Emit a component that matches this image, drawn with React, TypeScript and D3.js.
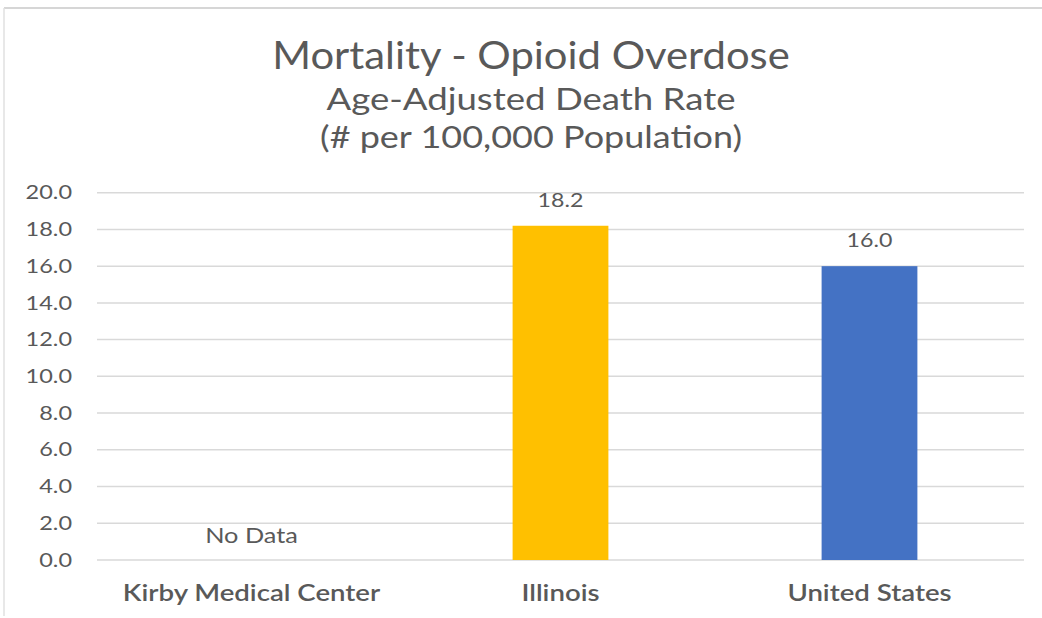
import React from "react";
import * as d3 from "d3";

const categories = ["Kirby Medical Center", "Illinois", "United States"];
const values: (number | null)[] = [null, 18.2, 16.0];
const barColors = ["#A5A5A5", "#FFC000", "#4472C4"];
const yTicks = [0, 2, 4, 6, 8, 10, 12, 14, 16, 18, 20];
const titleLines = ["Mortality - Opioid Overdose", "Age-Adjusted Death Rate", "(# per 100,000 Population)"];

const W = 1042;
const H = 618;
const FONT = "Lato, 'Open Sans', sans-serif";

function T(props: {
  x: number; y: number; sx?: number; size: number; anchor?: string; weight?: number; fill?: string; dy?: string; children: any;
}) {
  const { x, y, sx = 1, size, anchor = "middle", weight = 400, fill = "#595959", dy, children } = props;
  return (
    <text
      transform={`translate(${x},${y}) scale(${sx},1)`}
      textAnchor={anchor as any}
      fontSize={size}
      fontWeight={weight}
      fill={fill}
      dy={dy}
    >
      {children}
    </text>
  );
}

export default function App() {
  const left = 97, right = 1024, top = 192.7, bottom = 560;
  const x = d3.scaleBand<string>().domain(categories).range([left, right]).paddingInner(0).paddingOuter(0);
  const y = d3.scaleLinear().domain([0, 20]).range([bottom, top]);
  const barW = x.bandwidth() * 0.31;

  return (
    <svg width={W} height={H} style={{ position: "absolute", left: 0, top: 0, background: "#fff" }} fontFamily={FONT}>
      <rect x={0} y={0} width={W} height={H} fill="#fff" />
      <line x1={4} y1={8} x2={W} y2={8} stroke="#d6d6d6" strokeWidth={2} />
      <line x1={4} y1={8} x2={4} y2={616} stroke="#e0e0e0" strokeWidth={1.5} />

      <T x={531} y={69} size={38} sx={1.1}>{titleLines[0]}</T>
      <T x={531} y={110} size={30.5} sx={1.2}>{titleLines[1]}</T>
      <T x={531} y={148} size={30.5} sx={1.18}>{titleLines[2]}</T>

      {yTicks.map((t) => (
        <g key={t}>
          <line x1={left} x2={right} y1={y(t)} y2={y(t)} stroke="#d9d9d9" strokeWidth={1.5} />
          <T x={72} y={y(t)} dy="0.36em" anchor="end" size={18.5} sx={1.27}>{t.toFixed(1)}</T>
        </g>
      ))}

      {categories.map((c, i) => {
        const v = values[i];
        const cx = (x(c) as number) + x.bandwidth() / 2;
        return (
          <g key={c}>
            {v !== null ? (
              <>
                <rect x={cx - barW / 2} y={y(v)} width={barW} height={bottom - y(v)} fill={barColors[i]} />
                <T x={cx} y={y(v) - 19} size={19} sx={1.22}>{v.toFixed(1)}</T>
              </>
            ) : (
              <T x={cx} y={y(0) - 17} size={22} sx={1.15}>No Data</T>
            )}
            <T x={cx} y={601} size={23} sx={1.2} weight={600}>{c}</T>
          </g>
        );
      })}
    </svg>
  );
}
